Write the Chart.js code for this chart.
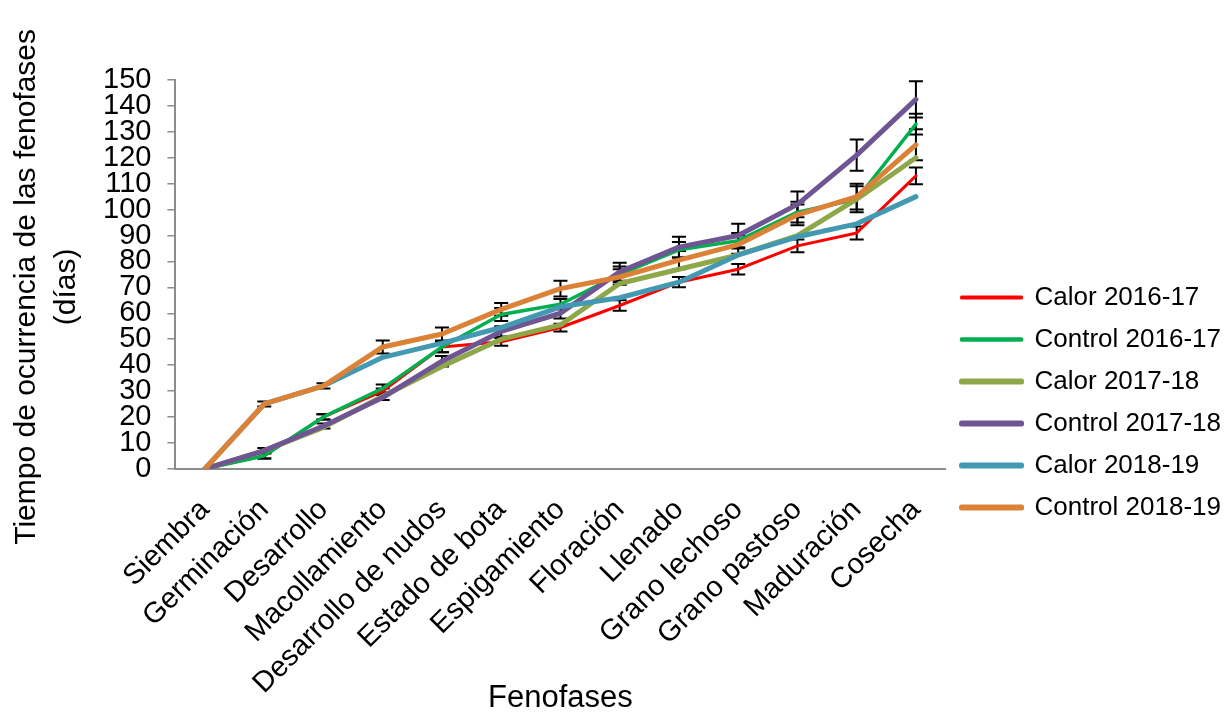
<!DOCTYPE html>
<html>
<head>
<meta charset="utf-8">
<script src="https://cdn.jsdelivr.net/npm/chart.js@4.4.1/dist/chart.umd.min.js"></script>
<style>
  html, body { margin: 0; padding: 0; background: #fff; }
  #wrap { width: 1231px; height: 713px; }
</style>
</head>
<body>
<div id="wrap"><canvas id="fenoChart"></canvas></div>
<script>
const fenofases = ["Siembra", "Germinación", "Desarrollo", "Macollamiento", "Desarrollo de nudos",
    "Estado de bota", "Espigamiento", "Floración", "Llenado", "Grano lechoso",
    "Grano pastoso", "Maduración", "Cosecha"];

const calor1617 = [0, 5, 20, 30, 47, 49, 54.5, 63, 72, 77, 86, 91, 113];
const control1617 = [0, 5, 20, 31, 47, 59.5, 63.5, 75, 84.5, 88, 99, 104, 133];
const calor1718 = [0, 7, 16, 28, 39.5, 50, 55.5, 71.5, 77, 82.5, 90, 104, 120];
const control1718 = [0, 7, 16.5, 27.5, 41.5, 53, 60, 76, 85.5, 90, 102, 121, 142.5];
const calor1819 = [0, 25, 32, 43, 48.5, 54.5, 62.5, 66, 72, 82.5, 89.5, 94.5, 105];
const control1819 = [0, 25, 32, 47, 52, 61.5, 69.5, 74, 80.5, 86.5, 98, 105, 125];

const errCalor1617 = [0, 1, 1, 1, 2, 1.5, 1.5, 2, 2, 2, 2.5, 2.5, 3.2];
const errControl1617 = [0, 1, 1, 1.5, 2, 2.5, 2, 3, 3, 3, 4, 5, 4];
const errControl1718 = [0, 1, 1, 1, 2, 2, 2, 3.5, 4, 4.5, 5, 6, 7];
const errControl1819 = [0, 1, 1, 2.5, 2.5, 2.5, 3, 3, 3.5, 3.5, 4, 5, 6];

const yTicks = [0, 150, 10];

const errorBars = {
    id: "errorBars",
    beforeDatasetsDraw(chart) {
        const { ctx, scales: { x, y } } = chart;
        ctx.save();
        ctx.strokeStyle = "#000";
        ctx.lineWidth = 2;
        chart.data.datasets.forEach(ds => {
            if (!ds.errors) return;
            ds.data.forEach((v, j) => {
                const e = ds.errors[j];
                if (!e) return;
                const px = x.getPixelForValue(j);
                const top = y.getPixelForValue(v + e);
                const bot = y.getPixelForValue(v - e);
                ctx.beginPath();
                ctx.moveTo(px, top); ctx.lineTo(px, bot);
                ctx.moveTo(px - 7, top); ctx.lineTo(px + 7, top);
                ctx.moveTo(px - 7, bot); ctx.lineTo(px + 7, bot);
                ctx.stroke();
            });
        });
        ctx.restore();
    }
};

function serie(label, data, color, width, order, errors) {
    return {
        label: label,
        data: data,
        errors: errors,
        borderColor: color,
        backgroundColor: color,
        borderWidth: width,
        borderCapStyle: "round",
        borderJoinStyle: "round",
        pointRadius: 0,
        pointHoverRadius: 0,
        tension: 0,
        order: order
    };
}

const FONT = "'Liberation Sans', Arial, sans-serif";

new Chart(document.getElementById("fenoChart"), {
    type: "line",
    data: {
        labels: fenofases,
        datasets: [
            serie("Calor 2016-17", calor1617, "#FF0000", 3, 5, errCalor1617),
            serie("Control 2016-17", control1617, "#00B050", 3.5, 4, errControl1617),
            serie("Calor 2017-18", calor1718, "#8EA849", 5, 3, null),
            serie("Control 2017-18", control1718, "#6F5591", 5, 2, errControl1718),
            serie("Calor 2018-19", calor1819, "#4299B1", 5, 1, null),
            serie("Control 2018-19", control1819, "#DB8237", 5, 0, errControl1819)
        ]
    },
    options: {
        responsive: true,
        maintainAspectRatio: false,
        animation: false,
        layout: { padding: { top: 80, left: 2, right: 0, bottom: 0 } },
        plugins: {
            tooltip: { enabled: false },
            legend: {
                position: "right",
                title: { display: true, text: "", padding: { top: 0, bottom: 0 }, font: { size: 10 } },
                labels: {
                    color: "#000",
                    font: { family: FONT, size: 26 },
                    boxWidth: 60,
                    boxHeight: 1,
                    padding: 16,
                    sort: (a, b) => a.datasetIndex - b.datasetIndex
                }
            }
        },
        scales: {
            x: {
                offset: true,
                grid: { display: false, drawTicks: false },
                border: { display: true, color: "#8C8C8C", width: 2 },
                ticks: {
                    color: "#000",
                    font: { family: FONT, size: 29 },
                    autoSkip: false,
                    minRotation: 45,
                    maxRotation: 45,
                    padding: 24
                },
                title: {
                    display: true,
                    text: "Fenofases",
                    color: "#000",
                    font: { family: FONT, size: 31, lineHeight: 1.1 },
                    padding: { top: -43, bottom: -3 }
                }
            },
            y: {
                min: yTicks[0],
                max: yTicks[1],
                grid: { drawOnChartArea: false, drawTicks: true, tickLength: 8, color: "#8C8C8C", lineWidth: 1.5 },
                border: { display: true, color: "#8C8C8C", width: 2 },
                ticks: {
                    stepSize: yTicks[2],
                    autoSkip: false,
                    color: "#000",
                    font: { family: FONT, size: 29 },
                    padding: 16
                },
                title: {
                    display: true,
                    text: ["Tiempo de ocurrencia de las fenofases   ", "(días)   "],
                    color: "#000",
                    font: { family: FONT, size: 30, lineHeight: 1.35 },
                    padding: { top: 4, bottom: 0 }
                }
            }
        }
    },
    plugins: [errorBars]
});
</script>
</body>
</html>
